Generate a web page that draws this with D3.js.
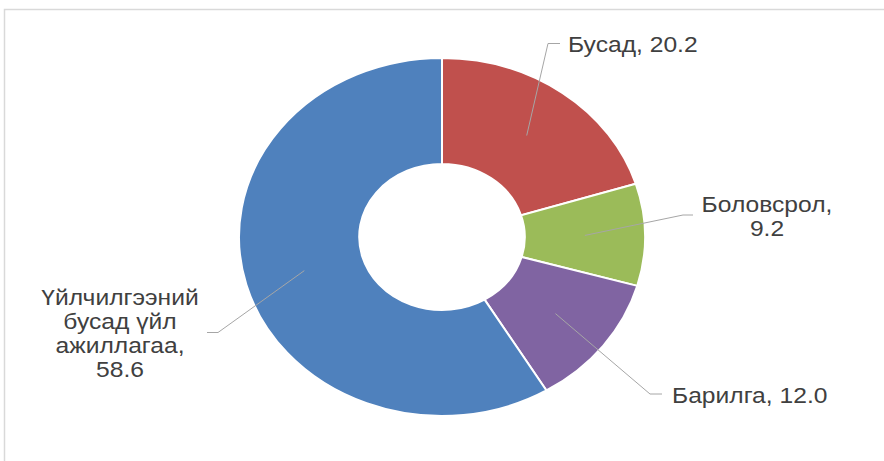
<!DOCTYPE html>
<html>
<head>
<meta charset="utf-8">
<script src="https://cdn.jsdelivr.net/npm/d3@7"></script>
<style>
  html, body { margin: 0; padding: 0; background: #fff; }
  svg { display: block; }
</style>
</head>
<body>
<svg id="chart" width="884" height="461"></svg>
<script>
// ---- data ----
const categories = ["Бусад", "Боловсрол", "Барилга", "Үйлчилгээний бусад үйл ажиллагаа"];
const values = [20.2, 9.2, 12.0, 58.6];
const colors = ["#C0504D", "#9BBB59", "#8064A2", "#4F81BD"];

// ---- layout (label placement / line breaks) ----
const labelLayout = [
  { nameLines: ["Бусад"], valueNewLine: false, anchor: "start", tx: 568, ty: 52, elbow: [548, 43.5], end: [560, 43.5] },
  { nameLines: ["Боловсрол"], valueNewLine: true, anchor: "middle", tx: 767, ty: 212, elbow: [683, 215], end: [693, 215] },
  { nameLines: ["Барилга"], valueNewLine: false, anchor: "start", tx: 672, ty: 403, elbow: [650, 394], end: [662, 394] },
  { nameLines: ["Үйлчилгээний", "бусад үйл", "ажиллагаа"], valueNewLine: true, anchor: "middle", tx: 120, ty: 305, elbow: [218, 332.5], end: [207, 332.5] }
];

const W = 884, H = 461;
const cx = 442, cy = 237;
const ry = 179, rInner = 73;
const sx = 1.134;           // horizontal stretch of the picture
const textSx = 1.12;
const fontSize = 22, lineH = 24;

const svg = d3.select("#chart");

// frame
svg.append("rect")
  .attr("x", 4.5).attr("y", 9.5)
  .attr("width", W + 20).attr("height", H + 20)
  .attr("fill", "none")
  .attr("stroke", "#D9D9D9")
  .attr("stroke-width", 1.5);

const pie = d3.pie().sort(null).value(d => d)(values);
const arc = d3.arc().innerRadius(rInner).outerRadius(ry);
const centroidArc = d3.arc().innerRadius((ry + rInner) / 2).outerRadius((ry + rInner) / 2);

const g = svg.append("g").attr("transform", `translate(${cx},${cy}) scale(${sx},1)`);
g.selectAll("path")
  .data(pie)
  .join("path")
  .attr("d", arc)
  .attr("fill", (d, i) => colors[i])
  .attr("stroke", "#fff")
  .attr("stroke-width", 2)
  .attr("vector-effect", "non-scaling-stroke");

// leader lines
pie.forEach((d, i) => {
  const c = centroidArc.centroid(d);
  const p0 = [cx + c[0] * sx, cy + c[1]];
  const L = labelLayout[i];
  svg.append("polyline")
    .attr("points", [p0, L.elbow, L.end].map(p => p.join(",")).join(" "))
    .attr("fill", "none")
    .attr("stroke", "#A6A6A6")
    .attr("stroke-width", 1);
});

// labels
pie.forEach((d, i) => {
  const L = labelLayout[i];
  const valStr = values[i].toFixed(1);
  let lines = L.nameLines.slice();
  if (L.valueNewLine) {
    lines[lines.length - 1] += ",";
    lines.push(valStr);
  } else {
    lines[lines.length - 1] += ", " + valStr;
  }
  const t = svg.append("text")
    .attr("transform", `translate(${L.tx},${L.ty}) scale(${textSx},1)`)
    .attr("text-anchor", L.anchor)
    .attr("font-family", "Liberation Sans, Arial, sans-serif")
    .attr("font-size", fontSize)
    .attr("fill", "#404040");
  lines.forEach((ln, k) => {
    t.append("tspan").attr("x", 0).attr("y", k * lineH).text(ln);
  });
});
</script>
</body>
</html>
